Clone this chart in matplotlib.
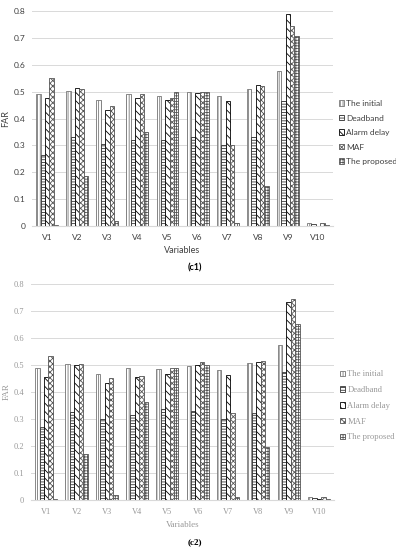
import numpy as np
import matplotlib
matplotlib.use("Agg")
import matplotlib.pyplot as plt

variables = ["V1", "V2", "V3", "V4", "V5", "V6", "V7", "V8", "V9", "V10"]
methods = ["The initial", "Deadband", "Alarm delay", "MAF", "The proposed"]

# (c1)
c1_initial = [0.490, 0.503, 0.468, 0.490, 0.485, 0.497, 0.485, 0.510, 0.575, 0.012]
c1_deadband = [0.265, 0.333, 0.305, 0.320, 0.320, 0.330, 0.302, 0.333, 0.465, 0.008]
c1_delay = [0.475, 0.512, 0.430, 0.475, 0.468, 0.495, 0.465, 0.525, 0.790, 0.002]
c1_maf = [0.550, 0.510, 0.448, 0.493, 0.475, 0.500, 0.302, 0.522, 0.745, 0.010]
c1_proposed = [0.003, 0.188, 0.020, 0.350, 0.497, 0.497, 0.010, 0.150, 0.707, 0.005]

# (c2)
c2_initial = [0.488, 0.503, 0.468, 0.488, 0.485, 0.497, 0.483, 0.508, 0.572, 0.012]
c2_deadband = [0.272, 0.325, 0.300, 0.315, 0.338, 0.328, 0.300, 0.322, 0.472, 0.008]
c2_delay = [0.457, 0.500, 0.433, 0.457, 0.467, 0.498, 0.463, 0.510, 0.733, 0.003]
c2_maf = [0.532, 0.502, 0.450, 0.460, 0.487, 0.510, 0.322, 0.515, 0.745, 0.010]
c2_proposed = [0.003, 0.172, 0.018, 0.362, 0.490, 0.500, 0.012, 0.195, 0.653, 0.004]

hatches = ["||||||", "------", "\\\\\\\\", "xxxxxx", "++++++"]
edges = ["#777777", "#333333", "#000000", "#555555", "#555555"]

plt.rcParams["hatch.linewidth"] = 0.6

fig = plt.figure(figsize=(3.96, 5.5), dpi=100)


def draw(ax, series, font, textcolor, legsize):
    x = np.arange(len(variables))
    w = 0.146
    for i, vals in enumerate(series):
        ax.bar(x + (i - 2) * w, vals, w, color="white", edgecolor=edges[i],
               hatch=hatches[i], linewidth=0.6, label=methods[i])
    ax.set_ylim(0, 0.8)
    ax.set_xlim(-0.5, 9.5)
    ax.set_yticks(np.arange(0, 0.81, 0.1))
    ax.set_yticklabels(["0"] + ["%.1f" % v for v in np.arange(0.1, 0.81, 0.1)])
    ax.set_xticks(x)
    ax.set_xticklabels(variables)
    ax.grid(axis="y", color="#d9d9d9", linewidth=0.7)
    ax.set_axisbelow(True)
    for s in ["top", "right", "left"]:
        ax.spines[s].set_visible(False)
    ax.spines["bottom"].set_color("#d9d9d9")
    ax.tick_params(length=0, labelsize=6, colors=textcolor)
    ax.tick_params(axis="y", pad=5)
    ax.tick_params(axis="x", pad=6)
    for lab in ax.get_xticklabels() + ax.get_yticklabels():
        lab.set_family(font)
    ax.set_ylabel("FAR", fontsize=6.5, family=font, color=textcolor, labelpad=2)
    ax.set_xlabel("Variables", fontsize=6.5, family=font, color=textcolor, labelpad=3)
    leg = ax.legend(loc="center left", bbox_to_anchor=(1.02, 0.435), frameon=False,
                    prop={"family": font, "size": legsize}, handlelength=0.6,
                    handleheight=0.6, handletextpad=0.25, labelspacing=0.9,
                    borderaxespad=0, borderpad=0)
    for t in leg.get_texts():
        t.set_color(textcolor)


ax1 = fig.add_axes([0.081, 0.589, 0.76, 0.391])
draw(ax1, [c1_initial, c1_deadband, c1_delay, c1_maf, c1_proposed], "Lato", "#404040", 6)
fig.text(195 / 396, 1 - 268 / 550, "(c1)", ha="center", va="center", fontsize=6.5,
         fontweight="bold", family="Lato")

ax2 = fig.add_axes([0.0785, 0.0909, 0.765, 0.393])
draw(ax2, [c2_initial, c2_deadband, c2_delay, c2_maf, c2_proposed], "Liberation Serif", "#999999", 6.2)
fig.text(195 / 396, 1 - 542 / 550, "(c2)", ha="center", va="center", fontsize=6.5,
         fontweight="bold", family="Liberation Serif")

fig.savefig("out.png", dpi=100)
